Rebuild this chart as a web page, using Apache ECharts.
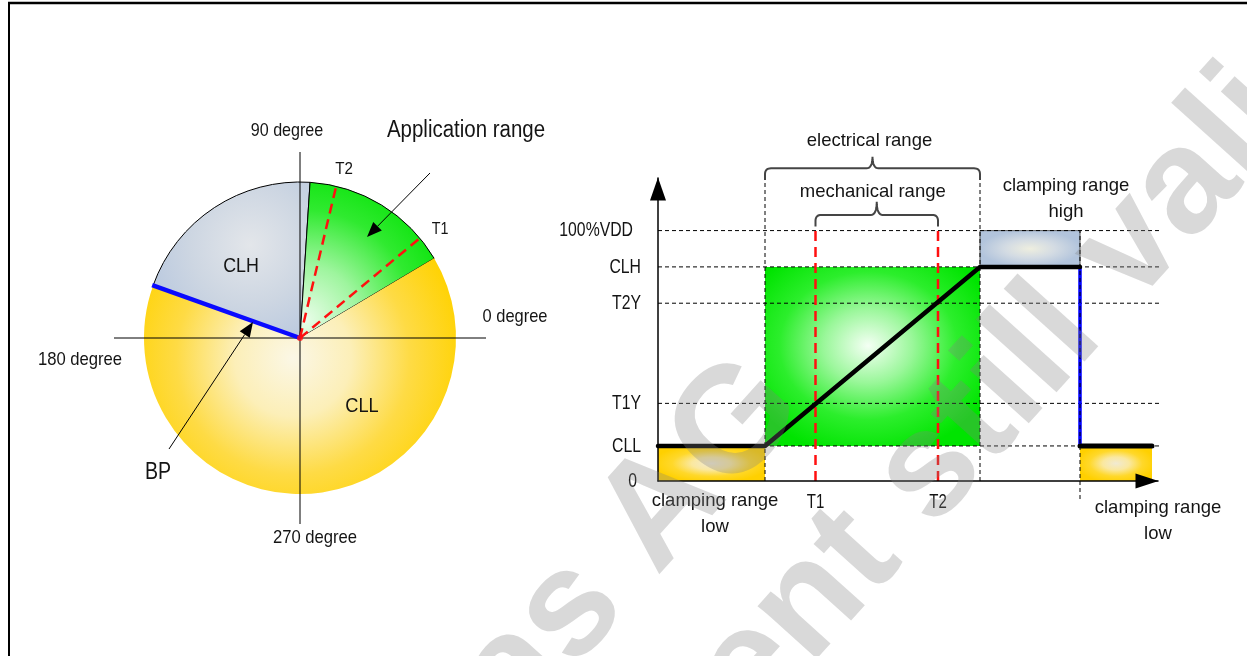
<!DOCTYPE html>
<html>
<head>
<meta charset="utf-8">
<title>Clamping ranges</title>
<script src="https://cdn.jsdelivr.net/npm/echarts@6/dist/echarts.min.js"></script>
<style>
  html, body { margin: 0; padding: 0; background: #fff; }
  #main { width: 1247px; height: 656px; }
</style>
</head>
<body>
<div id="main"></div>
<script>
// ---- left: angle diagram (degrees, counter-clockwise from "0 degree") ----
const bpAngle = 160.3
const sliceNames = ['CLH', 'Application range', 'CLL']
const sliceDegrees = [74, 55.6, 230.4]   // clockwise from BP
const tNames = ['T1', 'T2']
const tAngles = [39.8, 76.6]

// ---- right: output characteristic ----
const levelNames = ['0', 'CLL', 'T1Y', 'T2Y', 'CLH', '100%VDD']
const levelValues = [0, 14, 31, 71, 85.5, 100]
const CLL = 14, T1Y = 31, T2Y = 71, CLH = 85.5, VDD = 100
const xNames = ['T1', 'T2']
const xValues = [31.5, 56]
const elecRange = [21.4, 64.4]
const dropX = 84.4
const endX = 98.8
const outputLine = [[0, CLL], [elecRange[0], CLL], [elecRange[1], CLH], [dropX, CLH]]
const dropLine = [[dropX, CLH], [dropX, CLL]]
const tailLine = [[dropX, CLL], [endX, CLL]]
// boxes: x0, x1, y0, y1
const boxKinds = ['low', 'app', 'high', 'low']
const boxes = [
  [0, elecRange[0], 0, CLL],
  [elecRange[0], elecRange[1], CLL, CLH],
  [elecRange[1], dropX, CLH, VDD],
  [dropX, endX, 0, CLL]
]
const elecTop = 120.2
const mechTop = 101.6
const dashEnd = 101.7

const font = 'Liberation Sans, Arial, Helvetica, sans-serif'
const dash = [4, 3]

function radial(stops, x, y, r) {
  return { type: 'radial', x: x, y: y, r: r, global: x > 1,
    colorStops: stops.map((c, i) => ({ offset: i / (stops.length - 1), color: c })) }
}

const boxFill = {
  low: radial(['#f1ead2', '#fae8a0', '#ffd82a', '#ffd000'], 0.5, 0.5, 0.55),
  app: radial(['#f4fff4', '#9af79a', '#2cee2c', '#00e400'], 0.48, 0.44, 0.62),
  high: radial(['#eeeedf', '#d3dbe3', '#b2c4dc'], 0.5, 0.5, 0.5)
}

const sliceColors = [
  radial(['#e3e6ea', '#cdd6e2', '#b4c5de'], 250, 245, 120),
  radial(['#e9fde9', '#9ef59e', '#30ea30', '#00e200'], 305, 320, 165),
  radial(['#fbf7e6', '#fcefb8', '#fedb45', '#ffd200'], 293, 358, 175)
]

function vLine(x, y0, y1, color, width, type, z) {
  return { type: 'line', data: [[x, y0], [x, y1]], symbol: 'none', clip: false, silent: true, z: z,
    lineStyle: { color: color, width: width, type: type } }
}

const option = {
  animation: false,
  polar: { center: [300, 338], radius: 186 },
  angleAxis: {
    type: 'value', min: 0, max: 360, interval: 90, startAngle: 0, clockwise: false, z: 3,
    axisLine: { show: false }, axisTick: { show: false }, axisLabel: { show: false },
    splitLine: { show: true, lineStyle: { color: '#000', width: 1 } }
  },
  radiusAxis: {
    type: 'value', min: 0, max: 186,
    axisLine: { show: false }, axisTick: { show: false }, axisLabel: { show: false }, splitLine: { show: false }
  },
  grid: { left: 658, right: 89, top: 178, bottom: 175, outerBoundsMode: 'none' },
  xAxis: {
    type: 'value', min: 0, max: 100, z: 6,
    axisLine: { lineStyle: { color: '#000', width: 1.5 }, symbol: ['none', 'triangle'], symbolSize: [15, 23], symbolOffset: [0, -11] },
    axisTick: { show: false }, axisLabel: { show: false }, splitLine: { show: false }
  },
  yAxis: {
    type: 'value', min: 0, max: 121, z: 6,
    axisLine: { lineStyle: { color: '#000', width: 1.5 }, symbol: ['none', 'triangle'], symbolSize: [16, 23], symbolOffset: [0, -11] },
    axisTick: { show: false }, axisLabel: { show: false }, splitLine: { show: false }
  },
  series: [
    {
      type: 'pie', center: [300, 338], radius: 156, startAngle: bpAngle, clockwise: true,
      silent: true, emphasis: { disabled: true }, label: { show: false }, labelLine: { show: false }, z: 2,
      data: sliceNames.map((n, i) => ({
        name: n, value: sliceDegrees[i],
        itemStyle: { color: sliceColors[i], borderColor: '#000', borderWidth: i < 2 ? 1 : 0 }
      }))
    },
    ...tAngles.map(a => ({
      type: 'line', coordinateSystem: 'polar', data: [[0, a], [155, a]], symbol: 'none', silent: true, z: 4,
      lineStyle: { color: '#ff1010', width: 2.5, type: [10, 6] }
    })),
    {
      type: 'line', coordinateSystem: 'polar', data: [[0, bpAngle], [157, bpAngle]], symbol: 'none', silent: true, z: 5,
      lineStyle: { color: '#0a0aff', width: 4.5 }
    },
    {
      type: 'scatter', coordinateSystem: 'polar', data: [[0, 0]], symbolSize: 6, silent: true, z: 6,
      itemStyle: { color: '#ff1010' }
    },
    {
      type: 'custom', silent: true, z: 1,
      data: boxes,
      encode: { x: [0, 1], y: [2, 3] },
      renderItem: function (params, api) {
        const p0 = api.coord([api.value(0), api.value(3)])
        const p1 = api.coord([api.value(1), api.value(2)])
        const w = p1[0] - p0[0], h = p1[1] - p0[1]
        const kind = boxKinds[params.dataIndex]
        return {
          type: 'rect', x: p0[0], y: p0[1], scaleY: h / w,
          shape: { x: 0, y: 0, width: w, height: w },
          style: { fill: boxFill[kind], stroke: kind === 'high' ? 'rgba(70,70,70,0.8)' : null, lineWidth: 1, strokeNoScale: true }
        }
      }
    },
    ...[VDD, CLH, T2Y, T1Y].map(v => ({
      type: 'line', data: [[0, v], [dashEnd, v]], symbol: 'none', clip: false, silent: true, z: 2,
      lineStyle: { color: '#000', width: 1, type: dash }
    })),
    {
      type: 'line', data: [[0, CLL], [100.2, CLL]], symbol: 'none', clip: false, silent: true, z: 2,
      lineStyle: { color: '#000', width: 1, type: dash }
    },
    {
      type: 'line', data: dropLine, symbol: 'none', silent: true, z: 3,
      lineStyle: { color: '#0000ff', width: 3.5 }
    },
    {
      type: 'line', data: outputLine, symbol: 'none', silent: true, z: 4,
      lineStyle: { color: '#000', width: 4.5, cap: 'round', join: 'round' }
    },
    {
      type: 'line', data: tailLine, symbol: 'none', silent: true, z: 4,
      lineStyle: { color: '#000', width: 5, cap: 'round' }
    },
    vLine(elecRange[0], 0, elecTop, '#000', 1, dash, 3),
    vLine(elecRange[1], 0, elecTop, '#000', 1, dash, 3),
    vLine(dropX, -7.2, VDD, '#000', 1, dash, 5),
    ...xValues.map(x => vLine(x, 0, mechTop, '#ff1010', 2.5, [10, 6], 3))
  ]
}

const chart = echarts.init(document.getElementById('main'))
chart.setOption(option)

function px(x, y) { return chart.convertToPixel({ gridIndex: 0 }, [x, y]) }

function text(t, x, y, size, sx, align, extra) {
  const s = Object.assign({
    text: t, fontSize: size, fontFamily: font, fill: '#141414',
    textAlign: align || 'center', align: align || 'center',
    textVerticalAlign: 'middle', verticalAlign: 'middle', lineHeight: 26
  }, extra || {})
  return { type: 'text', x: x, y: y, scaleX: sx, silent: true, z: 50, style: s }
}

function arrow(x0, y0, x1, y1, len, half) {
  const d = Math.hypot(x1 - x0, y1 - y0)
  const ux = (x1 - x0) / d, uy = (y1 - y0) / d
  const bx = x1 - ux * len, by = y1 - uy * len
  return [
    { type: 'line', silent: true, z: 40, shape: { x1: x0, y1: y0, x2: bx, y2: by }, style: { stroke: '#000', lineWidth: 1 } },
    { type: 'polygon', silent: true, z: 40, shape: { points: [[x1, y1], [bx - uy * half, by + ux * half], [bx + uy * half, by - ux * half]] }, style: { fill: '#000' } }
  ]
}

function brace(xa, xb, yEnd, up, tip) {
  const pts = [], r = 6, xm = (xa + xb) / 2, yH = yEnd - up, yTop = yEnd - tip
  const q = (a, c, b) => {
    for (let i = 0; i <= 8; i++) {
      const t = i / 8
      pts.push([(1 - t) * (1 - t) * a[0] + 2 * (1 - t) * t * c[0] + t * t * b[0],
                (1 - t) * (1 - t) * a[1] + 2 * (1 - t) * t * c[1] + t * t * b[1]])
    }
  }
  pts.push([xa, yEnd])
  q([xa, yH + r], [xa, yH], [xa + r, yH])
  q([xm - r, yH], [xm, yH], [xm, yTop])
  q([xm, yTop], [xm, yH], [xm + r, yH])
  q([xb - r, yH], [xb, yH], [xb, yH + r])
  pts.push([xb, yEnd])
  return { type: 'polyline', silent: true, z: 40, shape: { points: pts }, style: { stroke: '#454545', lineWidth: 2, fill: null } }
}

function watermark(t, x, y) {
  return { type: 'text', x: x, y: y, rotation: 48 * Math.PI / 180, silent: true, z: 100,
    style: { text: t, fontSize: 150, fontWeight: 'bold', fontFamily: font, fill: 'rgba(128,128,128,0.3)',
      textAlign: 'center', align: 'center', textVerticalAlign: 'middle', verticalAlign: 'middle' } }
}

const e0 = px(elecRange[0], elecTop), e1 = px(elecRange[1], elecTop)
const m0 = px(xValues[0], mechTop), m1 = px(xValues[1], mechTop)
const axisY = px(0, 0)[1]
const labelRight = [637, 641, 641, 641, 641, 633]

const graphics = [
  // frame
  { type: 'line', silent: true, z: 60, shape: { x1: 8, y1: 3, x2: 1247, y2: 3 }, style: { stroke: '#000', lineWidth: 2.5 } },
  { type: 'line', silent: true, z: 60, shape: { x1: 9, y1: 3, x2: 9, y2: 656 }, style: { stroke: '#000', lineWidth: 2 } },
  // angle diagram texts
  text('90 degree', 287, 131, 18.5, 0.87),
  text('0 degree', 515, 317, 18.5, 0.89),
  text('180 degree', 80, 360, 18.5, 0.9),
  text('270 degree', 315, 538, 18.5, 0.9),
  text('Application range', 466, 131, 23, 0.89),
  text(tNames[1], 344, 170, 16.3, 0.93),
  text(tNames[0], 440, 230, 16.3, 0.88),
  text(sliceNames[0], 241, 266, 21, 0.85),
  text(sliceNames[2], 362, 406, 20, 0.91),
  text('BP', 158, 472, 24.5, 0.8),
  ...arrow(430, 173, 367, 237, 15, 6),
  ...arrow(169, 449, 253, 322, 15, 6),
  // braces and range texts
  brace(e0[0], e1[0], e0[1], 11.7, 23.3),
  brace(m0[0], m1[0], m0[1], 11.7, 24.7),
  text('electrical range', (e0[0] + e1[0]) / 2 - 3, e0[1] - 39, 18.5, 1),
  text('mechanical range', (m0[0] + m1[0]) / 2 - 4, m0[1] - 35, 18.5, 1),
  text('clamping range\nhigh', 1066, 199, 18.5, 1),
  text('clamping range\nlow', 715, 514, 18.5, 1),
  text('clamping range\nlow', 1158, 521, 18.5, 1),
  // axis labels
  ...levelValues.map((v, i) => text(levelNames[i], labelRight[i], px(0, v)[1], 20.5, 0.77, 'right')),
  ...xValues.map((v, i) => text(xNames[i], px(v, 0)[0], axisY + 21, 20, 0.75)),
  // watermark
  watermark('Micronas AG', 467, 726),
  watermark('Content still valid', 913, 490)
]

chart.setOption({ graphic: graphics })
</script>
</body>
</html>
